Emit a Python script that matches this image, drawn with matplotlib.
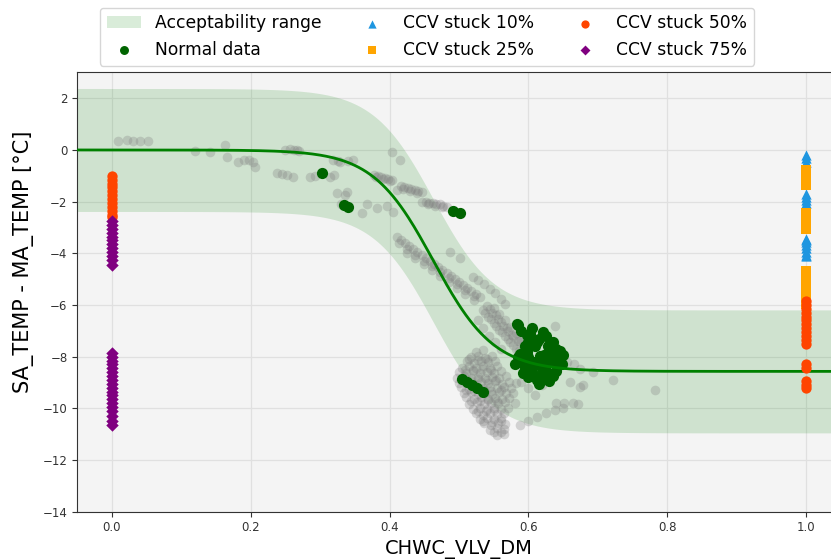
import numpy as np
import matplotlib
matplotlib.use('Agg')
import matplotlib.pyplot as plt

# logistic fit of SA-MA temperature difference against valve position
FIT_UPPER = 0.0
FIT_LOWER = -8.57
FIT_MID = 0.463
FIT_RATE = 22.9
BAND_HALF_WIDTH = 2.38

# training data (grey, no legend entry)
train_x = [
    # flat part, valve mostly closed
    0.009, 0.022, 0.030, 0.040, 0.052,
    0.120, 0.141, 0.163, 0.166,
    0.182, 0.190, 0.197, 0.203, 0.206,
    0.238, 0.245, 0.252, 0.261,
    0.250, 0.256, 0.262, 0.267, 0.270,
    0.285, 0.292, 0.314, 0.320,
    0.318, 0.325, 0.329, 0.340, 0.347,
    0.324, 0.339, 0.336,
    0.330, 0.367, 0.382, 0.396, 0.405, 0.360,
    0.403, 0.415,
    0.378, 0.383, 0.388, 0.393, 0.398, 0.403,
    0.380, 0.390, 0.400,
    0.416, 0.421, 0.426, 0.431, 0.436, 0.441, 0.446, 0.411,
    0.420, 0.430, 0.440,
    0.447, 0.452, 0.457, 0.462, 0.467, 0.472, 0.477, 0.483,
    0.455, 0.465, 0.475,
    # steep part
    0.410, 0.416, 0.422, 0.428, 0.434, 0.440, 0.446, 0.452, 0.458, 0.464, 0.470,
    0.476, 0.482, 0.488, 0.494, 0.500, 0.506, 0.512, 0.518, 0.524, 0.530,
    0.425, 0.437, 0.449, 0.461, 0.473, 0.485, 0.497, 0.509, 0.521,
    0.413, 0.425, 0.437, 0.449, 0.461, 0.473, 0.485, 0.497, 0.509, 0.521,
    0.487, 0.501,
    0.520, 0.528, 0.536, 0.544, 0.552, 0.560, 0.566,
    0.540, 0.548, 0.556, 0.563, 0.570, 0.578, 0.586, 0.594,
    0.550, 0.558, 0.566, 0.574, 0.582, 0.590, 0.598,
    0.535, 0.542, 0.550, 0.558, 0.566, 0.574, 0.582, 0.590,
    0.527, 0.535, 0.543, 0.552, 0.560,
    0.538, 0.546, 0.554, 0.562, 0.570, 0.578, 0.586,
    0.545, 0.553, 0.561, 0.569, 0.577, 0.585, 0.593,
    # lower cluster
    0.525, 0.535,
    0.518, 0.528, 0.538, 0.548,
    0.512, 0.522, 0.532, 0.542, 0.552,
    0.505, 0.515, 0.525, 0.535, 0.545, 0.555,
    0.500, 0.510, 0.520, 0.530, 0.540, 0.550, 0.560,
    0.497, 0.507, 0.517, 0.527, 0.537, 0.547, 0.557, 0.567,
    0.500, 0.512, 0.522, 0.532, 0.542, 0.552, 0.562, 0.572, 0.582,
    0.503, 0.515, 0.525, 0.535, 0.545, 0.555, 0.565, 0.575,
    0.507, 0.518, 0.528, 0.538, 0.548, 0.558, 0.568, 0.578,
    0.510, 0.522, 0.532, 0.542, 0.552, 0.562, 0.572,
    0.515, 0.526, 0.536, 0.546, 0.556, 0.566, 0.580,
    0.520, 0.530, 0.540, 0.550, 0.560, 0.570,
    0.524, 0.535, 0.545, 0.555, 0.565,
    0.530, 0.540, 0.550, 0.560,
    0.536, 0.546, 0.556, 0.566,
    0.545, 0.555, 0.565,
    0.555, 0.565,
    0.515, 0.527, 0.540,
    0.508, 0.520, 0.533, 0.546,
    0.505, 0.516, 0.528, 0.541, 0.553,
    0.510, 0.522, 0.534, 0.546, 0.560,
    0.518, 0.530, 0.542, 0.555,
    0.527, 0.539, 0.551,
    0.535, 0.548, 0.560,
    0.550, 0.560,
    # bottom arc and tail
    0.588, 0.600, 0.612, 0.625, 0.638, 0.650,
    0.640, 0.652, 0.664, 0.672,
    0.656, 0.665, 0.674, 0.693, 0.722, 0.679, 0.782, 0.638,
    0.600, 0.610, 0.620, 0.590, 0.660, 0.674,
]
train_y = [
    0.35, 0.38, 0.36, 0.35, 0.35,
    -0.04, -0.08, 0.19, -0.27,
    -0.46, -0.40, -0.38, -0.46, -0.65,
    -0.88, -0.92, -0.96, -1.04,
    0.00, 0.02, -0.02, 0.00, -0.05,
    -1.04, -1.02, -1.04, -0.98,
    -0.38, -0.44, -0.46, -0.42, -0.38,
    -1.66, -1.62, -1.73,
    -2.10, -2.10, -2.23, -2.15, -2.42, -2.45,
    -0.08, -0.38,
    -0.96, -0.99, -1.03, -1.07, -1.12, -1.17,
    -1.05, -1.12, -1.22,
    -1.40, -1.44, -1.47, -1.50, -1.53, -1.57, -1.62, -1.54,
    -1.50, -1.57, -1.65,
    -2.00, -2.02, -2.04, -2.05, -2.08, -2.11, -2.15, -2.19,
    -2.10, -2.15, -2.22,
    -3.38, -3.50, -3.61, -3.73, -3.84, -3.96, -4.08, -4.19, -4.31, -4.42, -4.54,
    -4.65, -4.77, -4.88, -5.00, -5.11, -5.23, -5.34, -5.46, -5.57, -5.69,
    -3.97, -4.20, -4.43, -4.66, -4.89, -5.12, -5.35, -5.58, -5.82,
    -3.59, -3.82, -4.05, -4.28, -4.51, -4.74, -4.97, -5.20, -5.43, -5.67,
    -3.95, -4.18,
    -4.90, -5.05, -5.20, -5.40, -5.55, -5.75, -5.95,
    -6.04, -6.30, -6.55, -6.80, -7.00, -7.20, -7.40, -7.60,
    -6.10, -6.35, -6.60, -6.85, -7.10, -7.35, -7.60,
    -6.20, -6.45, -6.70, -6.95, -7.20, -7.45, -7.70, -7.90,
    -6.60, -6.90, -7.20, -7.45, -7.70,
    -6.30, -6.55, -6.80, -7.05, -7.30, -7.55, -7.80,
    -6.15, -6.40, -6.65, -6.90, -7.15, -7.40, -7.65,
    -7.82, -7.76,
    -8.03, -7.97, -8.05, -7.96,
    -8.18, -8.24, -8.15, -8.22, -8.17,
    -8.42, -8.36, -8.44, -8.38, -8.43, -8.35,
    -8.58, -8.63, -8.57, -8.64, -8.59, -8.62, -8.55,
    -8.82, -8.76, -8.84, -8.78, -8.83, -8.77, -8.81, -8.75,
    -9.03, -8.97, -9.05, -8.98, -9.02, -8.96, -9.04, -8.99, -9.01,
    -9.18, -9.24, -9.17, -9.22, -9.16, -9.23, -9.19, -9.21,
    -9.42, -9.36, -9.44, -9.38, -9.43, -9.37, -9.41, -9.39,
    -9.58, -9.64, -9.57, -9.63, -9.59, -9.62, -9.60,
    -9.82, -9.76, -9.84, -9.78, -9.81, -9.77, -9.80,
    -10.03, -9.97, -10.04, -9.98, -10.02, -9.99,
    -10.18, -10.24, -10.17, -10.22, -10.19,
    -10.42, -10.36, -10.43, -10.38,
    -10.58, -10.64, -10.57, -10.62,
    -10.82, -10.76, -10.81,
    -11.02, -10.98,
    -8.10, -8.12, -8.08,
    -8.50, -8.52, -8.48, -8.51,
    -8.90, -8.92, -8.88, -8.91, -8.89,
    -9.30, -9.32, -9.28, -9.31, -9.29,
    -9.70, -9.72, -9.68, -9.71,
    -10.10, -10.12, -10.08,
    -10.50, -10.52, -10.48,
    -10.90, -10.92,
    -10.65, -10.50, -10.35, -10.20, -10.05, -10.00,
    -9.80, -9.80, -9.80, -9.82,
    -8.19, -8.30, -8.46, -8.58, -8.92, -9.10, -9.30, -6.80,
    -9.20, -9.50, -9.10, -9.00, -9.00, -9.17,
]

# normal operation data
normal_x = [
    0.303, 0.335, 0.340, 0.491, 0.501,
    0.505, 0.512, 0.519, 0.526, 0.534,
    0.585, 0.598, 0.584, 0.602, 0.621, 0.635, 0.646, 0.617, 0.607,
    0.617, 0.627, 0.635, 0.598, 0.612, 0.631, 0.600, 0.590, 0.605,
    0.625, 0.640, 0.610, 0.625, 0.595, 0.612, 0.620, 0.645, 0.588, 0.600,
    0.630, 0.615, 0.605, 0.640, 0.622, 0.650,
    0.590, 0.605, 0.615, 0.628, 0.640, 0.610, 0.620, 0.600, 0.635,
    0.648, 0.595, 0.630, 0.615, 0.600, 0.585, 0.580, 0.592,
]
normal_y = [
    -0.88, -2.13, -2.20, -2.38, -2.44,
    -8.85, -9.00, -9.10, -9.22, -9.35,
    -6.77, -7.16, -6.73, -7.12, -7.04, -7.42, -7.77, -7.96, -8.35,
    -8.85, -8.58, -8.08, -7.81, -7.42, -7.81, -8.00, -8.20, -8.60,
    -8.30, -8.30, -7.60, -7.20, -8.40, -8.90, -8.70, -8.00, -7.90, -7.45,
    -7.60, -8.15, -8.75, -8.55, -7.95, -7.95,
    -7.00, -6.90, -7.30, -7.60, -7.70, -8.20, -8.45, -8.80, -8.75,
    -8.30, -7.60, -8.95, -9.05, -8.55, -8.00, -8.30, -8.65,
]

# stuck valve faults: valve reads 0 or 1 whatever the coil does
stuck10_x = [1.0] * 15
stuck10_y = [-0.20, -0.32, -0.45,
             -1.70, -1.82, -1.94, -2.05,
             -3.45, -3.57, -3.69, -3.81, -3.93, -4.05, -4.10, -3.50]
stuck25_x = [1.0] * 22
stuck25_y = [-0.78, -0.93, -1.08, -1.22, -1.34,
             -2.43, -2.58, -2.73, -2.88, -3.00, -3.07,
             -4.70, -4.85, -5.00, -5.15, -5.30, -5.45, -5.57, -5.65, -5.75, -5.85, -5.95]
stuck50_x = [0.0] * 12 + [1.0] * 17
stuck50_y = [-1.00, -1.15, -1.30, -1.45, -1.60, -1.75, -1.90, -2.05, -2.20, -2.35, -2.50, -2.60,
             -5.85, -6.00, -6.15, -6.30, -6.45, -6.60, -6.75, -6.90, -7.05, -7.20, -7.35, -7.50,
             -8.28, -8.45, -8.93, -9.08, -9.22]
stuck75_x = [0.0] * 31
stuck75_y = [-2.75, -2.90, -3.05, -3.20, -3.35, -3.50, -3.65, -3.80, -3.95, -4.10, -4.25, -4.45,
             -7.85, -8.00, -8.15, -8.30, -8.45, -8.60, -8.75, -8.90, -9.05, -9.20, -9.35, -9.50,
             -9.65, -9.80, -9.95, -10.10, -10.30, -10.50, -10.65]


def logistic(x):
    return FIT_LOWER + (FIT_UPPER - FIT_LOWER) / (1 + np.exp(FIT_RATE * (x - FIT_MID)))


def plot_fault_check(filename):
    fig = plt.figure(figsize=(8.31, 5.60), dpi=100)
    # right edge of the axes runs past the figure on purpose
    ax = fig.add_axes([0.0930, 0.0863, 0.9187, 0.7843])
    ax.set_facecolor('#f4f4f4')
    ax.set_axisbelow(True)
    ax.grid(True, color='#e0e0e0', linewidth=0.9)

    xs = np.linspace(-0.05, 1.05, 400)
    fit = logistic(xs)
    ax.fill_between(xs, fit - BAND_HALF_WIDTH, fit + BAND_HALF_WIDTH,
                    color='green', alpha=0.15, linewidth=0, label='Acceptability range', zorder=1)
    ax.scatter(train_x, train_y, s=48, color='gray', alpha=0.3, linewidths=0, zorder=2)
    ax.scatter(normal_x, normal_y, s=65, color='darkgreen', linewidths=0, label='Normal data', zorder=3)
    ax.plot(xs, fit, color='green', linewidth=2.0, zorder=4)

    ax.scatter(stuck10_x, stuck10_y, marker='^', s=55, color='#1e96e0', linewidths=0,
               label='CCV stuck 10%', zorder=5)
    ax.scatter(stuck25_x, stuck25_y, marker='s', s=45, color='orange', linewidths=0,
               label='CCV stuck 25%', zorder=6)
    ax.scatter(stuck50_x, stuck50_y, marker='o', s=55, color='orangered', linewidths=0,
               label='CCV stuck 50%', zorder=7)
    ax.scatter(stuck75_x, stuck75_y, marker='D', s=40, color='purple', linewidths=0,
               label='CCV stuck 75%', zorder=8)

    ax.set_xlim(-0.05, 1.05)
    ax.set_ylim(-14, 3)
    ax.set_xticks([0.0, 0.2, 0.4, 0.6, 0.8, 1.0])
    ax.set_yticks([-14, -12, -10, -8, -6, -4, -2, 0, 2])
    ax.tick_params(labelsize=8.5, colors='#333333')
    for spine in ax.spines.values():
        spine.set_color('#333333')
    ax.set_xlabel('CHWC_VLV_DM', fontsize=14)
    ax.set_ylabel('SA_TEMP - MA_TEMP [°C]', fontsize=15)
    ax.yaxis.set_label_coords(-0.057, 0.57)

    fig.legend(loc='upper center', bbox_to_anchor=(427 / 831, 1 + 1 / 560), ncol=3,
               fontsize=12.3, markerscale=0.8)
    fig.savefig(filename, dpi=100)


if __name__ == '__main__':
    plot_fault_check('out.png')
